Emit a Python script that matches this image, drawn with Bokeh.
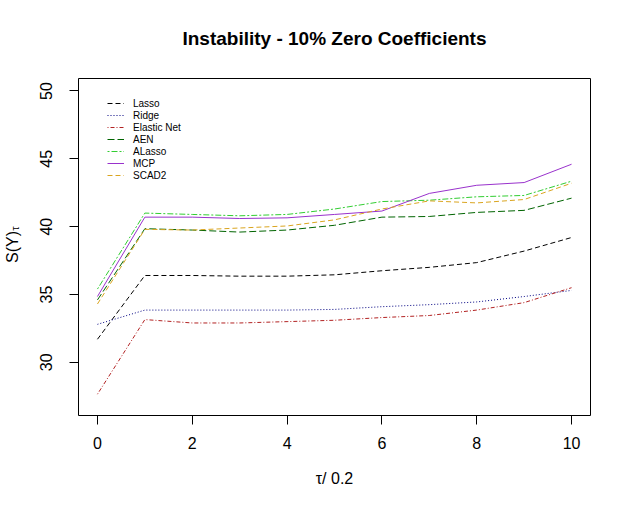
from bokeh.plotting import figure
from bokeh.models import (ColumnDataSource, Range1d, FixedTicker, Legend, LegendItem,
                          LinearAxis)
from bokeh.embed import file_html
from bokeh.resources import INLINE

# ---- data ----
tau = [0, 1, 2, 3, 4, 5, 6, 7, 8, 9, 10]
lasso = [31.7, 36.4, 36.4, 36.35, 36.35, 36.45, 36.75, 37.0, 37.35, 38.2, 39.2]
ridge = [32.8, 33.85, 33.85, 33.85, 33.85, 33.9, 34.1, 34.25, 34.45, 34.85, 35.3]
elastic_net = [27.65, 33.15, 32.9, 32.9, 33.0, 33.1, 33.3, 33.45, 33.85, 34.4, 35.5]
aen = [34.6, 39.85, 39.75, 39.6, 39.75, 40.1, 40.7, 40.75, 41.05, 41.2, 42.1]
alasso = [35.4, 41.0, 40.9, 40.8, 40.9, 41.3, 41.85, 41.95, 42.2, 42.3, 43.35]
mcp = [34.85, 40.7, 40.7, 40.6, 40.65, 40.9, 41.15, 42.45, 43.05, 43.25, 44.6]
scad2 = [34.3, 39.8, 39.75, 39.9, 40.05, 40.5, 41.3, 41.9, 41.75, 42.0, 43.2]

series_names = ["Lasso", "Ridge", "Elastic Net", "AEN", "ALasso", "MCP", "SCAD2"]
series_values = [lasso, ridge, elastic_net, aen, alasso, mcp, scad2]
series_colors = ["#000000", "#000080", "#B22222", "#006400", "#32CD32", "#9932CC", "#DAA520"]
series_dashes = ["5 3", "1 2", "1 2 4 2", "7 3", "2 2 6 2", "solid", "5 3"]

x_ticks = [0, 2, 4, 6, 8, 10]
y_ticks = [30, 35, 40, 45, 50]

title_text = "Instability - 10% Zero Coefficients"
x_label = "τ/ 0.2"
y_label_main = "S(Y)"
y_label_sub = "τ"

FONT = "Liberation Sans"
NBSP = "\u00a0"

p = figure(width=615, height=497, output_backend="svg", toolbar_location=None,
           x_range=Range1d(-0.4, 10.4), y_range=Range1d(26.08, 50.92),
           min_border_left=78, min_border_right=25, min_border_top=78, min_border_bottom=82)

p.background_fill_color = "white"
p.border_fill_color = "white"
p.outline_line_color = "black"
p.outline_line_width = 1
p.outline_line_alpha = 1.0
p.xgrid.visible = False
p.ygrid.visible = False
p.title.visible = False


def style_axis(ax, label_size="16px"):
    ax.axis_line_color = None
    ax.minor_tick_line_color = None
    ax.major_tick_line_color = "black"
    ax.major_label_text_font = FONT
    ax.major_label_text_font_size = "16px"
    ax.major_label_text_color = "black"
    ax.axis_label_text_font = FONT
    ax.axis_label_text_font_size = label_size
    ax.axis_label_text_font_style = "normal"
    ax.axis_label_text_color = "black"


def bare_axis(**kw):
    ax = LinearAxis(ticker=FixedTicker(ticks=[]), **kw)
    style_axis(ax)
    ax.major_tick_out = 0
    ax.major_tick_in = 0
    ax.major_tick_line_color = None
    ax.minor_tick_out = 0
    ax.minor_tick_in = 0
    return ax


for ax in (p.xaxis[0], p.yaxis[0]):
    style_axis(ax)
    ax.major_tick_out = 9
    ax.major_tick_in = 0

p.xaxis.ticker = FixedTicker(ticks=x_ticks)
p.yaxis.ticker = FixedTicker(ticks=y_ticks)
p.xaxis.major_label_standoff = 12
p.yaxis.major_label_standoff = 17
p.yaxis.major_label_orientation = "vertical"
p.xaxis.axis_label = x_label
p.xaxis.axis_label_standoff = 18

# y axis label "S(Y)" with subscript tau, built from two label-only axes;
# the subscript is pushed toward the top end with non-breaking spaces
sub_axis = bare_axis(axis_label=NBSP * 12 + y_label_sub)
sub_axis.axis_label_text_font_size = "11px"
sub_axis.axis_label_standoff = 17
p.add_layout(sub_axis, "left")

main_axis = bare_axis(axis_label=y_label_main)
main_axis.axis_label_standoff = -15
main_axis.axis_label_text_line_height = 1.0
p.add_layout(main_axis, "left")

# title drawn as the label of a bare axis above the frame
title_axis = bare_axis(axis_label=title_text)
title_axis.axis_label_text_font_size = "19px"
title_axis.axis_label_text_font_style = "bold"
title_axis.axis_label_standoff = 30
p.add_layout(title_axis, "above")

items = []
for name, vals, col, dash in zip(series_names, series_values, series_colors, series_dashes):
    src = ColumnDataSource(dict(x=tau, y=vals))
    r = p.line("x", "y", source=src, line_color=col, line_width=1, line_dash=dash)
    items.append(LegendItem(label=name, renderers=[r]))

legend = Legend(items=items, location=(29, 234))
legend.border_line_color = None
legend.background_fill_alpha = 0
legend.padding = 0
legend.margin = 0
legend.spacing = 0
legend.glyph_width = 17
legend.glyph_height = 12
legend.label_height = 12
legend.label_standoff = 9
legend.label_text_font = FONT
legend.label_text_font_size = "10px"
legend.label_text_color = "black"
p.add_layout(legend)

open("out.html", "w").write(file_html(p, INLINE))
